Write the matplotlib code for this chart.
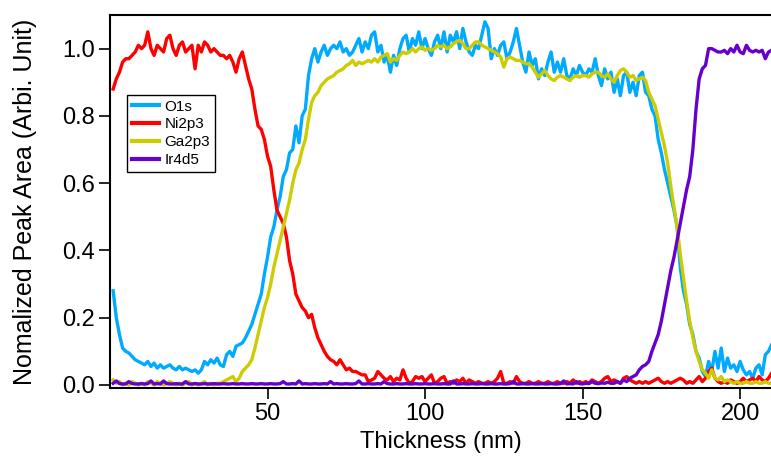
import matplotlib
matplotlib.use("Agg")
import matplotlib.pyplot as plt
import numpy as np

plt.rcParams.update({
    "font.family": ["Liberation Sans", "DejaVu Sans"],
    "font.size": 17,
    "axes.linewidth": 1.5,
    "xtick.major.width": 1.2,
    "ytick.major.width": 1.2,
    "xtick.major.size": 8,
    "ytick.major.size": 8,
})

# thickness grid (nm), one sample per nm
thickness = np.arange(1, 211)

o1s = [
    0.28, 0.20, 0.15, 0.11, 0.10, 0.095, 0.085, 0.075, 0.07, 0.065,
    0.06, 0.07, 0.055, 0.065, 0.05, 0.06, 0.05, 0.055, 0.06, 0.05,
    0.045, 0.055, 0.045, 0.05, 0.045, 0.04, 0.045, 0.035, 0.045, 0.07,
    0.06, 0.075, 0.065, 0.08, 0.06, 0.055, 0.09, 0.10, 0.085, 0.115,
    0.12, 0.125, 0.14, 0.16, 0.18, 0.21, 0.24, 0.27, 0.33, 0.38,
    0.44, 0.47, 0.52, 0.56, 0.62, 0.64, 0.69, 0.70, 0.77, 0.72,
    0.80, 0.82, 0.92, 0.97, 1.00, 0.96, 0.99, 1.01, 0.98, 1.00,
    1.01, 1.00, 1.02, 0.99, 1.00, 0.98, 0.99, 1.01, 1.03, 0.99,
    1.02, 1.00, 1.04, 1.05, 0.99, 1.01, 0.96, 0.98, 0.93, 0.98,
    0.95, 1.00, 1.03, 1.04, 0.99, 1.03, 1.01, 1.05, 1.00, 1.03,
    1.00, 0.98, 1.02, 1.04, 1.00, 1.05, 0.99, 1.04, 1.02, 1.05,
    1.00, 1.06, 1.02, 0.99, 0.98, 1.01, 1.00, 1.04, 1.08, 1.06,
    0.97, 1.00, 0.98, 1.01, 1.02, 0.97, 0.99, 1.02, 1.06, 1.01,
    0.96, 0.93, 0.99, 0.95, 0.97, 0.91, 0.94, 0.92, 0.96, 0.99,
    0.93, 0.96, 0.93, 0.97, 0.92, 0.91, 0.94, 0.92, 0.95, 0.93,
    0.92, 0.94, 0.93, 0.97, 0.92, 0.89, 0.94, 0.91, 0.93, 0.87,
    0.91, 0.86, 0.92, 0.93, 0.87, 0.90, 0.86, 0.92, 0.93, 0.87,
    0.86, 0.82, 0.80, 0.73, 0.69, 0.64, 0.60, 0.56, 0.52, 0.47,
    0.35, 0.28, 0.24, 0.18, 0.15, 0.10, 0.08, 0.04, 0.025, 0.07,
    0.04, 0.10, 0.05, 0.11, 0.04, 0.08, 0.05, 0.06, 0.04, 0.07,
    0.045, 0.03, 0.04, 0.02, 0.05, 0.06, 0.03, 0.09, 0.10, 0.12,
]

ni2p3 = [
    0.88, 0.91, 0.93, 0.96, 0.97, 0.97, 0.98, 0.99, 1.01, 1.00,
    1.01, 1.05, 1.00, 0.98, 1.01, 1.00, 0.99, 1.03, 1.04, 1.00,
    0.98, 1.01, 1.02, 0.99, 1.00, 1.01, 0.94, 1.01, 0.99, 1.02,
    1.01, 0.99, 1.00, 0.99, 0.98, 0.98, 0.97, 0.98, 0.96, 0.93,
    0.97, 0.99, 0.95, 0.91, 0.88, 0.82, 0.77, 0.76, 0.73, 0.68,
    0.65, 0.58, 0.52, 0.50, 0.48, 0.44, 0.37, 0.33, 0.27, 0.25,
    0.23, 0.22, 0.20, 0.21, 0.17, 0.14, 0.12, 0.10, 0.085, 0.075,
    0.07, 0.06, 0.075, 0.06, 0.045, 0.05, 0.04, 0.04, 0.035, 0.03,
    0.03, 0.01, 0.015, 0.02, 0.04, 0.03, 0.02, 0.015, 0.025, 0.01,
    0.02, 0.015, 0.045, 0.02, 0.005, 0.01, 0.025, 0.02, 0.025, 0.01,
    0.02, 0.03, 0.005, 0.01, 0.02, 0.025, 0.005, 0.01, 0.005, 0.015,
    0.01, 0.02, 0.005, 0.015, 0.01, 0.005, 0.01, 0.005, 0.005, 0.01,
    0.005, 0.01, 0.02, 0.04, 0.005, 0.005, 0.01, 0.005, 0.025, 0.01,
    0.005, 0.005, 0.01, 0.005, 0.005, 0.01, 0.005, 0.005, 0.01, 0.005,
    0.005, 0.01, 0.005, 0.005, 0.01, 0.005, 0.015, 0.005, 0.01, 0.005,
    0.01, 0.005, 0.015, 0.01, 0.005, 0.01, 0.02, 0.025, 0.01, 0.015,
    0.01, 0.005, 0.02, 0.025, 0.015, 0.01, 0.005, 0.01, 0.005, 0.01,
    0.005, 0.01, 0.015, 0.02, 0.01, 0.005, 0.01, 0.005, 0.01, 0.015,
    0.02, 0.015, 0.005, 0.01, 0.005, 0.015, 0.025, 0.01, 0.02, 0.04,
    0.05, 0.02, 0.01, 0.005, 0.01, 0.005, 0.015, 0.01, 0.005, 0.01,
    0.02, 0.01, 0.015, 0.02, 0.01, 0.025, 0.015, 0.01, 0.02, 0.035,
]

ga2p3 = [
    0.015, 0.005, 0.01, 0.0, 0.005, 0.0, 0.01, 0.005, 0.0, 0.005,
    0.0, 0.01, 0.005, 0.0, 0.01, 0.005, 0.0, 0.005, 0.01, 0.005,
    0.0, 0.005, 0.0, 0.005, 0.01, 0.0, 0.005, 0.0, 0.005, 0.01,
    0.0, 0.005, 0.0, 0.005, 0.005, 0.01, 0.015, 0.02, 0.025, 0.01,
    0.02, 0.04, 0.05, 0.06, 0.075, 0.11, 0.15, 0.19, 0.23, 0.26,
    0.30, 0.35, 0.39, 0.43, 0.47, 0.51, 0.55, 0.60, 0.64, 0.66,
    0.70, 0.73, 0.79, 0.84, 0.86, 0.87, 0.89, 0.90, 0.91, 0.915,
    0.92, 0.93, 0.935, 0.94, 0.95, 0.955, 0.965, 0.95, 0.96, 0.955,
    0.96, 0.965, 0.96, 0.97, 0.96, 0.975, 0.98, 0.985, 0.96, 0.97,
    0.965, 0.98, 0.99, 0.985, 0.99, 1.0, 0.99, 1.0, 1.005, 0.995,
    1.0, 0.995, 1.0, 1.01, 1.005, 1.01, 1.0, 1.005, 1.015, 1.02,
    1.025, 1.015, 1.0, 1.0, 1.01, 1.02, 1.02, 1.01, 1.005, 1.0,
    0.995, 0.99, 0.985, 0.975, 0.945, 0.97, 0.975, 0.97, 0.965, 0.965,
    0.96, 0.955, 0.955, 0.945, 0.93, 0.915, 0.925, 0.935, 0.92, 0.91,
    0.905, 0.915, 0.92, 0.915, 0.91, 0.905, 0.915, 0.92, 0.915, 0.92,
    0.92, 0.915, 0.925, 0.93, 0.93, 0.92, 0.915, 0.925, 0.91, 0.90,
    0.92, 0.935, 0.94, 0.93, 0.915, 0.92, 0.905, 0.91, 0.915, 0.905,
    0.87, 0.85, 0.83, 0.79, 0.75, 0.71, 0.66, 0.59, 0.53, 0.47,
    0.39, 0.32, 0.25, 0.19, 0.14, 0.10, 0.07, 0.045, 0.035, 0.02,
    0.045, 0.02, 0.015, 0.025, 0.01, 0.015, 0.01, 0.005, 0.01, 0.005,
    0.005, 0.01, 0.005, 0.005, 0.01, 0.005, 0.005, 0.01, 0.005, 0.005,
]

ir4d5 = [
    0.005, 0.012, 0.004, 0.003, 0.003, 0.01, 0.004, 0.003, 0.003, 0.004,
    0.003, 0.004, 0.012, 0.003, 0.004, 0.003, 0.012, 0.004, 0.003, 0.003,
    0.004, 0.003, 0.003, 0.01, 0.003, 0.003, 0.004, 0.003, 0.003, 0.004,
    0.003, 0.003, 0.004, 0.003, 0.003, 0.004, 0.003, 0.003, 0.004, 0.003,
    0.003, 0.004, 0.003, 0.003, 0.004, 0.003, 0.003, 0.004, 0.003, 0.003,
    0.004, 0.003, 0.003, 0.004, 0.01, 0.003, 0.003, 0.004, 0.003, 0.012,
    0.003, 0.004, 0.003, 0.003, 0.004, 0.003, 0.003, 0.004, 0.003, 0.01,
    0.003, 0.004, 0.003, 0.003, 0.004, 0.003, 0.003, 0.004, 0.012, 0.003,
    0.003, 0.004, 0.003, 0.003, 0.004, 0.003, 0.01, 0.004, 0.003, 0.003,
    0.004, 0.003, 0.003, 0.004, 0.003, 0.003, 0.004, 0.003, 0.003, 0.004,
    0.003, 0.003, 0.004, 0.003, 0.003, 0.004, 0.003, 0.003, 0.012, 0.003,
    0.003, 0.004, 0.003, 0.003, 0.004, 0.003, 0.003, 0.004, 0.003, 0.003,
    0.004, 0.003, 0.003, 0.004, 0.003, 0.003, 0.004, 0.01, 0.003, 0.003,
    0.004, 0.003, 0.003, 0.004, 0.003, 0.003, 0.004, 0.003, 0.003, 0.004,
    0.003, 0.003, 0.004, 0.012, 0.003, 0.004, 0.003, 0.01, 0.004, 0.003,
    0.005, 0.004, 0.01, 0.005, 0.004, 0.006, 0.005, 0.008, 0.005, 0.005,
    0.01, 0.005, 0.015, 0.01, 0.02, 0.025, 0.03, 0.045, 0.055, 0.06,
    0.07, 0.10, 0.125, 0.15, 0.19, 0.24, 0.29, 0.34, 0.38, 0.43,
    0.48, 0.53, 0.58, 0.62, 0.70, 0.82, 0.91, 0.94, 0.95, 1.0,
    1.0, 0.995, 0.99, 0.99, 0.995, 0.985, 1.0, 0.99, 1.01, 0.99,
    0.985, 1.01, 0.995, 0.99, 0.995, 0.99, 0.995, 0.97, 0.99, 0.995,
]

series = [
    ("O1s", o1s, "#00AAFF"),
    ("Ni2p3", ni2p3, "#FF0000"),
    ("Ga2p3", ga2p3, "#CCCC00"),
    ("Ir4d5", ir4d5, "#6600CC"),
]

fig = plt.figure(figsize=(7.71, 4.66), dpi=100)
ax = fig.add_axes([110 / 771, 78 / 466, 661 / 771, 373 / 466])

for name, vals, color in series:
    ax.plot(thickness, vals, color=color, linewidth=2.4, label=name)

ax.set_xlim(0, 209.8)
ax.set_ylim(-0.009, 1.1)
ax.set_xticks([50, 100, 150, 200])
ax.set_yticks([0.0, 0.2, 0.4, 0.6, 0.8, 1.0])
ax.set_yticklabels([f"{v:.1f}" for v in ax.get_yticks()])
ax.spines["right"].set_visible(False)
ax.tick_params(direction="out", top=False, right=False, pad=3)

ax.set_xlabel("Thickness (nm)", labelpad=4)
ax.set_ylabel("Nomalized Peak Area (Arbi. Unit)", fontsize=18, labelpad=18)

leg = ax.legend(loc="upper left", bbox_to_anchor=(17 / 661, 1 - 80 / 373),
                fontsize=11, frameon=True, fancybox=False, framealpha=1,
                edgecolor="black", borderpad=0.3, labelspacing=0.25,
                handlelength=1.8, handletextpad=0.35, borderaxespad=0)
leg.get_frame().set_linewidth(1.0)
for line in leg.get_lines():
    line.set_linewidth(3.0)

fig.savefig("out.png", dpi=100)
